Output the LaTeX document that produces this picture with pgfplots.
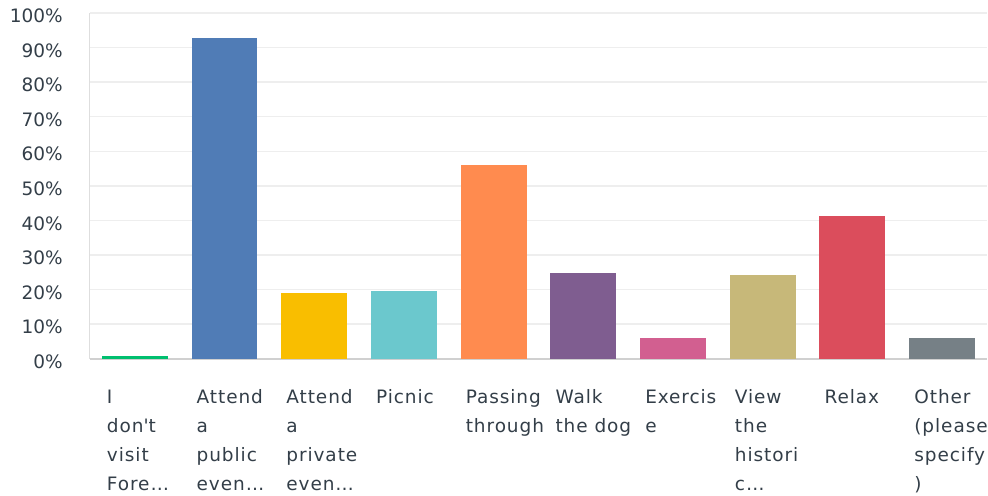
\documentclass[border=0pt]{standalone}
\usepackage{pgfplots}
\pgfplotsset{compat=1.18}
\usepackage{fontspec}
\setmainfont{DejaVu Sans}
\newfontfamily\xlab[LetterSpace=5]{DejaVu Sans}
\definecolor{txt}{HTML}{333E48}
\definecolor{gridc}{HTML}{EEEEEE}
\definecolor{axc}{HTML}{D0D0D0}
\definecolor{c1}{HTML}{00BF6F}
\definecolor{c2}{HTML}{507CB6}
\definecolor{c3}{HTML}{F9BE00}
\definecolor{c4}{HTML}{6BC8CD}
\definecolor{c5}{HTML}{FF8B4F}
\definecolor{c6}{HTML}{7F5D90}
\definecolor{c7}{HTML}{D25F90}
\definecolor{c8}{HTML}{C7B879}
\definecolor{c9}{HTML}{DB4D5C}
\definecolor{c10}{HTML}{768086}
\begin{document}
\begin{tikzpicture}
\begin{axis}[
  scale only axis,
  width=898pt, height=346pt,
  xmin=-0.5, xmax=9.5,
  ymin=0, ymax=100,
  ytick={0,10,...,100},
  yticklabel={\pgfmathprintnumber{\tick}\%},
  xtick={0,...,9},
  xticklabels={
    {I\\don\textquotesingle t\\visit\\Fore…},
    {Attend\\a\\public\\even…},
    {Attend\\a\\private\\even…},
    {Picnic},
    {Passing\\through},
    {Walk\\the dog},
    {Exercis\\e},
    {View\\the\\histori\\c…},
    {Relax},
    {Other\\(please\\specify\\)}},
  major tick length=0pt,
  axis x line*=bottom, axis y line*=left,
  x axis line style={draw=axc, line width=2pt, -},
  y axis line style={draw=axc!70, line width=1pt, -},
  ymajorgrids, grid style={draw=gridc, line width=1.5pt},
  /pgf/number format/assume math mode=true,
  ticklabel style={text=txt},
  yticklabel style={font=\fontsize{18.5}{29}\selectfont, inner sep=0pt, xshift=-27pt, yshift=-3pt},
  xticklabel style={font=\xlab\fontsize{18.5}{29}\selectfont, align=left, anchor=north west, inner sep=0pt, xshift=-28pt, yshift=-31pt},
  every axis plot/.append style={ybar, bar width=66pt, bar shift=0pt, draw=none},
]
\addplot[fill=c1] coordinates {(0,0.9)};
\addplot[fill=c2] coordinates {(1,92.8)};
\addplot[fill=c3] coordinates {(2,19.1)};
\addplot[fill=c4] coordinates {(3,19.7)};
\addplot[fill=c5] coordinates {(4,56.1)};
\addplot[fill=c6] coordinates {(5,24.9)};
\addplot[fill=c7] coordinates {(6,6.1)};
\addplot[fill=c8] coordinates {(7,24.3)};
\addplot[fill=c9] coordinates {(8,41.3)};
\addplot[fill=c10] coordinates {(9,6.1)};
\end{axis}
\path ([xshift=-90pt,yshift=-137pt]current axis.south west) rectangle ([yshift=13pt]current axis.north east);
\end{tikzpicture}
\end{document}
